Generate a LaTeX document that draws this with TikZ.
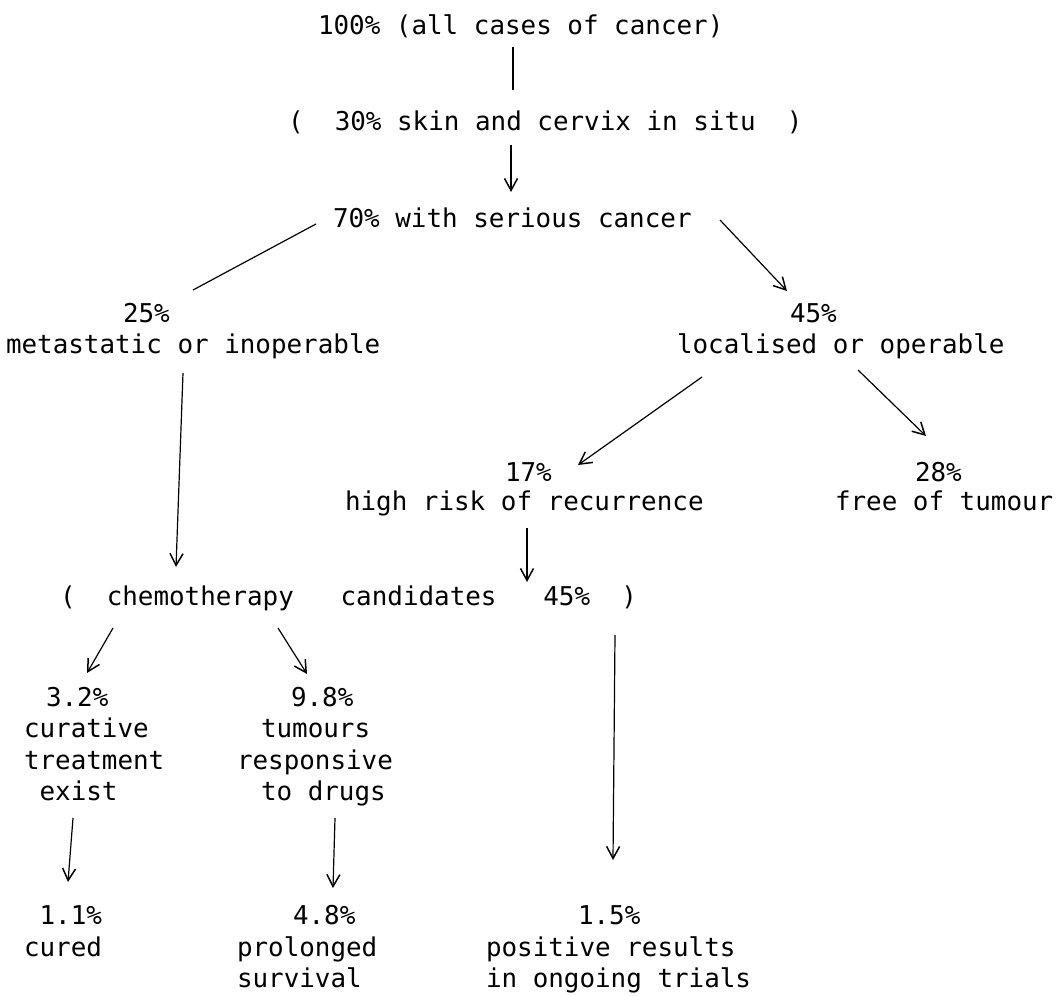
\documentclass[tikz,border=0pt]{standalone}
\usepackage{fontspec}
\newfontfamily\twfont{DejaVu Sans Mono}
\usetikzlibrary{arrows.meta}
\begin{document}
\begin{tikzpicture}[x=1pt,y=-1pt,
  txt/.style={anchor=base west,inner sep=0pt,outer sep=0pt,font=\twfont\fontsize{25.9}{31.7}\selectfont},
  conn/.style={line width=1.2pt,black},
  arr/.style={conn,-{Straight Barb[length=12pt,width=13pt,line width=1.5pt]}}]
\useasboundingbox (0,0) rectangle (1063,996);
% rows of text
\node[txt] (all) at (318,34) {100\% (all cases of cancer)};
\node[txt] (skin) at (288,130) {(\ \ 30\% skin and cervix in situ\ \ )};
\node[txt] (ser) at (333,227) {70\% with serious cancer};
\node[txt] (met1) at (123,322) {25\%};
\node[txt] (met2) at (6,353) {metastatic or inoperable};
\node[txt] (loc1) at (790,322) {45\%};
\node[txt] (loc2) at (677,353) {localised or operable};
\node[txt] (hr1) at (505,481) {17\%};
\node[txt] (hr2) at (345,510) {high risk of recurrence};
\node[txt] (fr1) at (915,481) {28\%};
\node[txt] (fr2) at (835,510) {free of tumour};
\node[txt] (chemo) at (60,605) {(\ \ chemotherapy\ \ \ candidates\ \ \ 45\%\ \ )};
\node[txt] (cu1) at (46,706) {3.2\%};
\node[txt] (cu2) at (24,737.5) {curative};
\node[txt] (cu3) at (24,769) {treatment};
\node[txt] (cu4) at (39.6,800.5) {exist};
\node[txt] (tu1) at (291,706) {9.8\%};
\node[txt] (tu2) at (261,737.5) {tumours};
\node[txt] (tu3) at (237,769) {responsive};
\node[txt] (tu4) at (261,800.5) {to drugs};
\node[txt] (cd1) at (39.6,924.5) {1.1\%};
\node[txt] (cd2) at (24,956) {cured};
\node[txt] (pr1) at (293,924.5) {4.8\%};
\node[txt] (pr2) at (237,956) {prolonged};
\node[txt] (pr3) at (237,987.5) {survival};
\node[txt] (po1) at (578,924.5) {1.5\%};
\node[txt] (po2) at (486,956) {positive results};
\node[txt] (po3) at (486,987.5) {in ongoing trials};
% connector end points
\coordinate (c1s) at (513,47);   \coordinate (c1e) at (513,90);
\coordinate (c2s) at (511,145);  \coordinate (c2e) at (511,192);
\coordinate (c3s) at (316,224);  \coordinate (c3e) at (193,290);
\coordinate (c4s) at (720,220);  \coordinate (c4e) at (787,291);
\coordinate (c5s) at (183,373);  \coordinate (c5e) at (176,567);
\coordinate (c6s) at (702,377);  \coordinate (c6e) at (578,465);
\coordinate (c7s) at (858,370);  \coordinate (c7e) at (926,436);
\coordinate (c8s) at (527,528);  \coordinate (c8e) at (527,582);
\coordinate (c9s) at (113,628);  \coordinate (c9e) at (87,673);
\coordinate (c10s) at (278,628); \coordinate (c10e) at (307,674);
\coordinate (c11s) at (73,818);  \coordinate (c11e) at (68,882);
\coordinate (c12s) at (335,818); \coordinate (c12e) at (333,888);
\coordinate (c13s) at (615,635); \coordinate (c13e) at (613,860);
% connectors
\draw[conn] (c1s) -- (c1e);
\draw[arr] (c2s) -- (c2e);
\draw[conn] (c3s) -- (c3e);
\draw[arr] (c4s) -- (c4e);
\draw[arr] (c5s) -- (c5e);
\draw[arr] (c6s) -- (c6e);
\draw[arr] (c7s) -- (c7e);
\draw[arr,line width=1.8pt] (c8s) -- (c8e);
\draw[arr] (c9s) -- (c9e);
\draw[arr] (c10s) -- (c10e);
\draw[arr] (c11s) -- (c11e);
\draw[arr] (c12s) -- (c12e);
\draw[arr] (c13s) -- (c13e);
\end{tikzpicture}
\end{document}
